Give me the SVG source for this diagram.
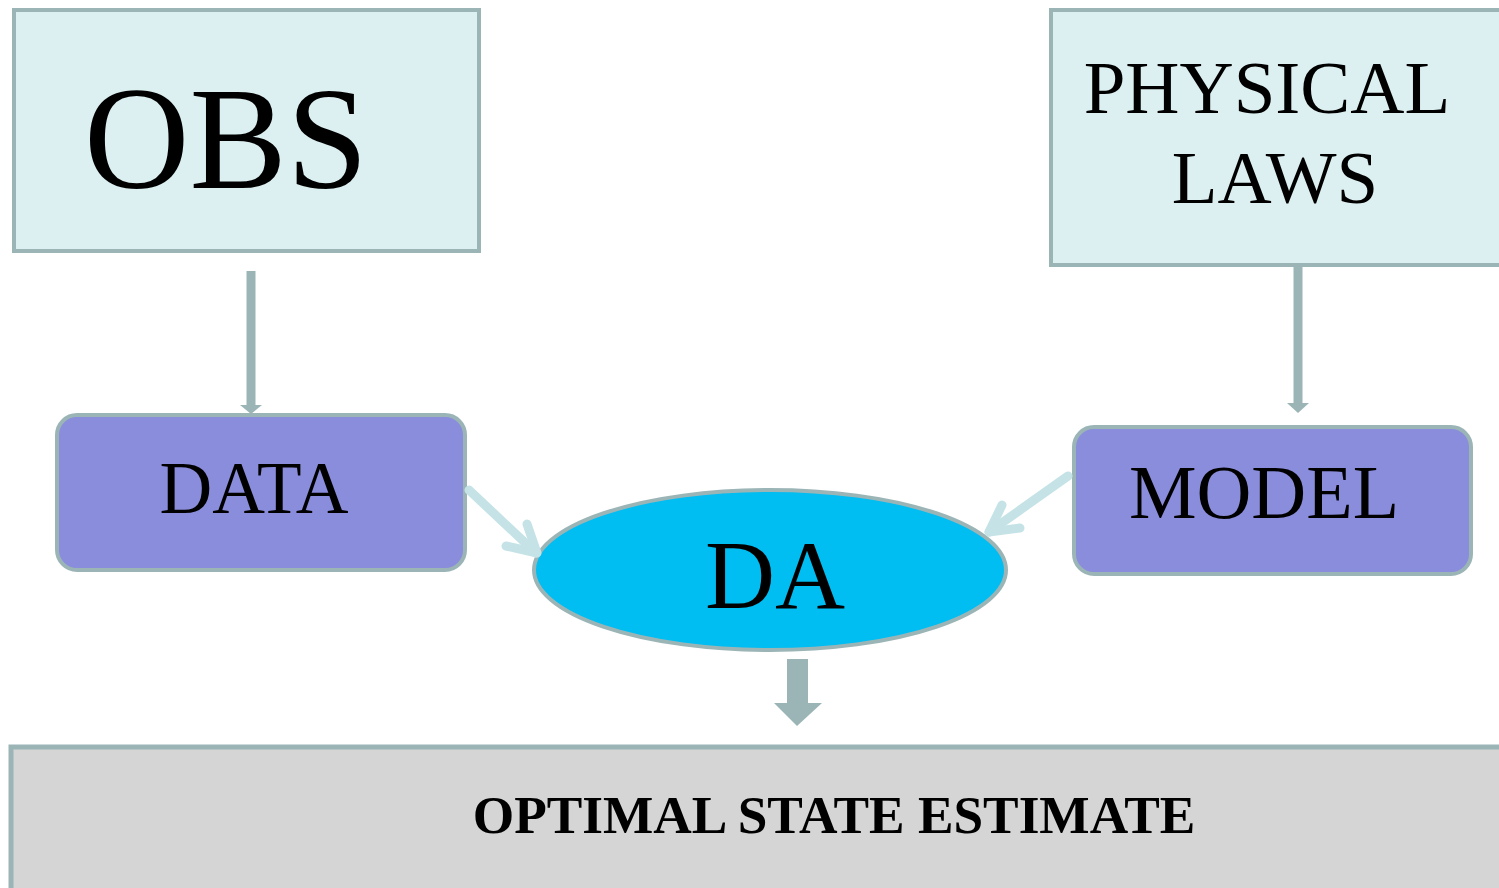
<svg xmlns="http://www.w3.org/2000/svg" width="1499" height="888" viewBox="0 0 1499 888">
<style>
.box{fill:#dcf0f2;stroke:#9bb5b7;stroke-width:4}
.pur{fill:#8a8cdc;stroke:#9bb5b7;stroke-width:4}
.t{font-family:"Liberation Serif",serif;fill:#000}
.gl{stroke:#9bb5b7;stroke-width:9;fill:none}
.lb{stroke:#c5e3e6;stroke-width:9;fill:none;stroke-linecap:round;stroke-linejoin:round}
</style>
<rect width="1499" height="888" fill="#fff"/>
<g id="obs"><rect class="box" x="14" y="10" width="465" height="241"/><text class="t" x="84" y="188" font-size="146">OBS</text></g>
<g id="physical"><rect class="box" x="1051" y="10" width="460" height="255"/><text class="t" x="1267" y="113" font-size="75" text-anchor="middle">PHYSICAL</text><text class="t" x="1275" y="203" font-size="75" text-anchor="middle">LAWS</text></g>
<g id="data"><rect class="pur" x="57" y="415" width="408" height="155" rx="20"/><text class="t" x="254" y="513" font-size="73" text-anchor="middle">DATA</text></g>
<g id="model"><rect class="pur" x="1074" y="427" width="397" height="147" rx="20"/><text class="t" x="1264" y="518" font-size="76" text-anchor="middle">MODEL</text></g>
<g id="da"><ellipse cx="770" cy="570" rx="236" ry="80" fill="#00bdf2" stroke="#9bb5b7" stroke-width="4"/><text class="t" x="775" y="608" font-size="97" text-anchor="middle">DA</text></g>
<g id="ose"><rect x="11" y="747" width="1500" height="150" fill="#d5d5d5" stroke="#9bb5b7" stroke-width="5"/><text class="t" x="834" y="833" font-size="53.3" font-weight="bold" text-anchor="middle">OPTIMAL STATE ESTIMATE</text></g>
<g id="connectors">
<line class="gl" x1="251" y1="271" x2="251" y2="406"/>
<polygon points="240,405 262,405 251,414" fill="#9bb5b7"/>
<line class="gl" x1="1298" y1="266" x2="1298" y2="404"/>
<polygon points="1287,403 1309,403 1298,413" fill="#9bb5b7"/>
<line class="lb" x1="469" y1="490" x2="536" y2="553"/>
<polyline class="lb" points="527,524 537,553 506,546"/>
<line class="lb" x1="1068" y1="476" x2="989" y2="532"/>
<polyline class="lb" points="1002,505 989,532 1020,528"/>
<polygon points="787,659 808,659 808,703 822,703 797,726 774,703 787,703" fill="#9bb5b7"/>
</g>
</svg>
